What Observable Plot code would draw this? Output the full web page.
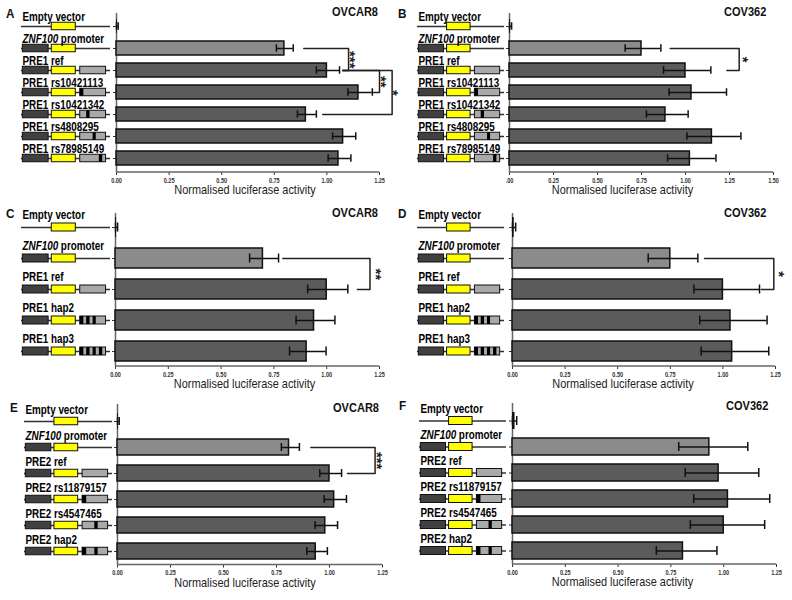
<!DOCTYPE html>
<html>
<head>
<meta charset="utf-8">
<script src="https://cdn.jsdelivr.net/npm/d3@7"></script>
<script src="https://cdn.jsdelivr.net/npm/@observablehq/plot@0.6"></script>
<style>
  html, body { margin: 0; padding: 0; background: #fff; }
  #root { position: relative; width: 792px; height: 600px; overflow: hidden; background: #fff;
          font-family: "Liberation Sans", Arial, sans-serif; }
  .panel { position: absolute; width: 396px; height: 200px; }
  .panel svg { position: absolute; left: 0; top: 0; }
  .letter { position: absolute; font-weight: bold; font-size: 13px; line-height: 13px; color: #111;
            transform: scaleX(0.9); transform-origin: left center; }
  .ptitle { position: absolute; font-weight: bold; font-size: 12px; line-height: 12px; color: #111;
            transform: scaleX(0.92); transform-origin: left center; white-space: nowrap; }
</style>
</head>
<body>
<div id="root"></div>
<script>
// ---------------- data ----------------
const xLabel = "Normalised luciferase activity";
const ticks125 = [0, 0.25, 0.5, 0.75, 1, 1.25];
const ticks125Labels = ["0.00", "0.25", "0.50", "0.75", "1.00", "1.25"];
const ticks150 = [0, 0.25, 0.5, 0.75, 1, 1.25, 1.5];
const ticks150Labels = [".00", "0.25", "0.50", "0.75", "1.00", "1.25", "1.50"];

const PRE1_names = ["Empty vector", "ZNF100 promoter", "PRE1 ref", "PRE1 rs10421113", "PRE1 rs10421342", "PRE1 rs4808295", "PRE1 rs78985149"];
const PRE1_snps = [[], [], [], [0], [1], [2], [3]];
const HAP_names = ["Empty vector", "ZNF100 promoter", "PRE1 ref", "PRE1 hap2", "PRE1 hap3"];
const HAP_snps = [[], [], [], [0, 1, 2], [0, 1, 2, 3]];
const PRE2_names = ["Empty vector", "ZNF100 promoter", "PRE2 ref", "PRE2 rs11879157", "PRE2 rs4547465", "PRE2 hap2"];
const PRE2_snps = [[], [], [], [0], [1], [0, 1]];

// Panel A – OVCAR8, PRE1 SNPs
const A_mean = [0.004, 0.798, 1.000, 1.150, 0.900, 1.077, 1.055];
const A_lo   = [0.000, 0.760, 0.950, 1.100, 0.860, 1.027, 1.006];
const A_hi   = [0.008, 0.840, 1.060, 1.216, 0.950, 1.137, 1.114];
const A_brackets = [
  {from: "ZNF100 promoter", to: "PRE1 ref", xFrom: 0.89, xTo: 1.075, xr: 1.103, label: "***", labelX: 1.125},
  {from: "PRE1 ref", to: "PRE1 rs10421113", xFrom: 1.075, xTo: 1.22, xr: 1.25, label: "**", labelX: 1.274},
  {from: "PRE1 ref", to: "PRE1 rs10421342", xFrom: 1.075, xTo: 0.98, xr: 1.31, label: "*", labelX: 1.331}
];
// Panel B – COV362, PRE1 SNPs
const B_mean = [0.006, 0.750, 1.000, 1.034, 0.886, 1.150, 1.025];
const B_lo   = [0.000, 0.657, 0.875, 0.907, 0.778, 1.008, 0.898];
const B_hi   = [0.012, 0.860, 1.144, 1.233, 1.015, 1.315, 1.173];
const B_brackets = [
  {from: "ZNF100 promoter", to: "PRE1 ref", xFrom: 0.913, xTo: 1.235, xr: 1.305, label: "*", labelX: 1.35}
];
// Panel C – OVCAR8, PRE1 haplotypes
const C_mean = [0.005, 0.698, 1.000, 0.940, 0.905];
const C_lo   = [0.000, 0.635, 0.910, 0.855, 0.824];
const C_hi   = [0.010, 0.772, 1.100, 1.039, 0.997];
const C_brackets = [
  {from: "ZNF100 promoter", to: "PRE1 ref", xFrom: 0.792, xTo: 1.145, xr: 1.205, label: "**", labelX: 1.249}
];
// Panel D – COV362, PRE1 haplotypes
const D_mean = [0.008, 0.750, 1.000, 1.036, 1.044];
const D_lo   = [0.000, 0.645, 0.862, 0.890, 0.897];
const D_hi   = [0.015, 0.881, 1.174, 1.210, 1.218];
const D_brackets = [
  {from: "ZNF100 promoter", to: "PRE1 ref", xFrom: 0.913, xTo: 1.182, xr: 1.242, label: "*", labelX: 1.282}
];
// Panel E – OVCAR8, PRE2
const E_mean = [0.004, 0.809, 1.000, 1.022, 0.980, 0.935];
const E_lo   = [0.000, 0.773, 0.954, 0.975, 0.932, 0.893];
const E_hi   = [0.008, 0.858, 1.057, 1.080, 1.038, 0.990];
const E_brackets = [
  {from: "ZNF100 promoter", to: "PRE2 ref", xFrom: 0.912, xTo: 1.085, xr: 1.215, label: "***", labelX: 1.241}
];
// Panel F – COV362, PRE2
const F_mean = [0.012, 0.932, 0.976, 1.020, 1.000, 0.807];
const F_lo   = [0.000, 0.787, 0.818, 0.858, 0.842, 0.681];
const F_hi   = [0.020, 1.114, 1.166, 1.218, 1.194, 0.968];
const F_brackets = [];

// ---------------- layout (styles / geometry) ----------------
const FONT = '"Liberation Sans", Arial, sans-serif';
const PART = {prom: [0.015, 0.305], luc: [0.34, 0.61], pre: [0.66, 0.95]};
const SLOTS = {
  PRE1: [[0.0, 0.14], [0.25, 0.38], [0.5, 0.62], [0.74, 0.87]],
  PRE2: [[0.0, 0.16], [0.48, 0.61]]
};
const GEO = {
  A: {left: 0,   top: 0,   x0: 116, x1: 379, axisY: 172,   frameTop: 13, row0: 25,   step: 22.5,  barH: 14.5, capH: 8,   line: [21, 110], labelDy: -10, titleDx: -3,  letter: [6, 7],  title: [332, 6],  letterText: "A"},
  B: {left: 396, top: 0,   x0: 113, x1: 377, axisY: 172,   frameTop: 13, row0: 25,   step: 22.5,  barH: 14.5, capH: 8,   line: [21, 108], labelDy: -10, titleDx: -19, letter: [2, 7],  title: [328, 6],  letterText: "B"},
  C: {left: 0,   top: 200, x0: 115, x1: 379, axisY: 166,   frameTop: 13, row0: 26.3, step: 31.5,  barH: 20,   capH: 9,   line: [21, 110], labelDy: -13, titleDx: -3,  letter: [6, 7],  title: [332, 7],  letterText: "C"},
  D: {left: 396, top: 200, x0: 116, x1: 379, axisY: 166,   frameTop: 13, row0: 26.3, step: 31.5,  barH: 20,   capH: 9,   line: [21, 108], labelDy: -13, titleDx: -21, letter: [2, 7],  title: [328, 7],  letterText: "D"},
  E: {left: 0,   top: 400, x0: 117, x1: 382, axisY: 164.5, frameTop: 4,  row0: 20.5, step: 26.25, barH: 16.5, capH: 8.5, line: [24, 112], labelDy: -12, titleDx: -5,  letter: [10, 1], title: [333, 2],  letterText: "E"},
  F: {left: 396, top: 400, x0: 116, x1: 380, axisY: 164,   frameTop: 3,  row0: 20,   step: 26.2,  barH: 17,   capH: 9,   line: [23, 110], labelDy: -12, titleDx: -22, letter: [3, -1], title: [330, 0],  letterText: "F"}
};

const PANELS = [
  {key: "A", cell: "OVCAR8", region: "PRE1", names: PRE1_names, snps: PRE1_snps, mean: A_mean, lo: A_lo, hi: A_hi, brackets: A_brackets, max: 1.25, ticks: ticks125, tickLabels: ticks125Labels},
  {key: "B", cell: "COV362", region: "PRE1", names: PRE1_names, snps: PRE1_snps, mean: B_mean, lo: B_lo, hi: B_hi, brackets: B_brackets, max: 1.5,  ticks: ticks150, tickLabels: ticks150Labels},
  {key: "C", cell: "OVCAR8", region: "PRE1", names: HAP_names,  snps: HAP_snps,  mean: C_mean, lo: C_lo, hi: C_hi, brackets: C_brackets, max: 1.25, ticks: ticks125, tickLabels: ticks125Labels},
  {key: "D", cell: "COV362", region: "PRE1", names: HAP_names,  snps: HAP_snps,  mean: D_mean, lo: D_lo, hi: D_hi, brackets: D_brackets, max: 1.25, ticks: ticks125, tickLabels: ticks125Labels},
  {key: "E", cell: "OVCAR8", region: "PRE2", names: PRE2_names, snps: PRE2_snps, mean: E_mean, lo: E_lo, hi: E_hi, brackets: E_brackets, max: 1.25, ticks: ticks125, tickLabels: ticks125Labels},
  {key: "F", cell: "COV362", region: "PRE2", names: PRE2_names, snps: PRE2_snps, mean: F_mean, lo: F_lo, hi: F_hi, brackets: F_brackets, max: 1.25, ticks: ticks125, tickLabels: ticks125Labels}
];

// horizontally condense svg texts (the reference uses a narrow face)
function condense(svg, scaleFor) {
  svg.querySelectorAll("text").forEach(t => {
    const s = scaleFor(t.textContent);
    if (!s || s === 1) return;
    const x = parseFloat(t.getAttribute("x")) || 0, y = parseFloat(t.getAttribute("y")) || 0;
    const tr = t.getAttribute("transform") || "";
    t.setAttribute("transform", `${tr} translate(${x},${y}) scale(${s},1) translate(${-x},${-y})`);
  });
}

const root = document.getElementById("root");

function makePanel(p) {
  const g = GEO[p.key];
  const W = 396, H = 200;
  const rows = p.names.map((name, i) => ({
    name, mean: p.mean[i], lo: p.lo[i], hi: p.hi[i], snps: p.snps[i],
    kind: name === "Empty vector" ? "empty" : name.startsWith("ZNF100") ? "promoter" : "pre"
  }));
  const n = rows.length;
  const pad = 1 - g.barH / g.step;
  const r0 = g.row0 - g.step * (1 + pad) / 2;
  const r1 = r0 + g.step * (n + pad);
  const yBand = {domain: p.names, range: [r0, r1], padding: pad, align: 0.5};
  const boxInset = (g.barH - 8) / 2;
  const capInset = (g.barH - g.capH) / 2;

  // construct diagram pieces
  const parts = [];
  const [p0, p1] = PART.pre;
  for (const r of rows) {
    if (r.kind !== "empty") parts.push({name: r.name, type: "prom", x1: PART.prom[0], x2: PART.prom[1]});
    parts.push({name: r.name, type: "luc", x1: PART.luc[0], x2: PART.luc[1]});
    if (r.kind === "pre") {
      parts.push({name: r.name, type: "pre", x1: p0, x2: p1});
      for (const s of r.snps) {
        const [a, b] = SLOTS[p.region][s];
        parts.push({name: r.name, type: "snp", x1: p0 + a * (p1 - p0), x2: p0 + b * (p1 - p0)});
      }
    }
  }
  const box = (type, fill, stroke) => Plot.barX(parts.filter(d => d.type === type), {
    y: "name", x1: "x1", x2: "x2", fill, stroke, strokeWidth: stroke ? 1 : 0, insetTop: boxInset, insetBottom: boxInset
  });

  const diag = Plot.plot({
    width: W, height: H, margin: 0,
    style: {background: "transparent", overflow: "visible", fontFamily: FONT},
    x: {domain: [0, 1], range: g.line, axis: null},
    y: {...yBand, axis: null},
    marks: [
      Plot.ruleY(rows, {y: "name", x1: 0, x2: 1, stroke: "#333", strokeWidth: 1.3}),
      box("prom", "#404040", "#111"),
      box("luc", "#ffff00", "#111"),
      box("pre", "#a9a9a9", "#111"),
      box("snp", "#000", null),
      Plot.text(rows, {y: "name", x: 0, text: "name", textAnchor: "start", dx: 1, dy: g.labelDy,
        fontSize: 12.5, fontWeight: "bold", fill: "#000"})
    ]
  });
  d3.select(diag).selectAll("text").each(function() {
    const t = this.textContent;
    if (t.startsWith("ZNF100 ")) {
      this.textContent = "";
      d3.select(this).append("tspan").attr("font-style", "italic").text("ZNF100");
      d3.select(this).append("tspan").text(t.slice(6));
    }
  });
  condense(diag, () => 0.79);

  // brackets
  const bracketPts = [];
  p.brackets.forEach((b, i) => {
    bracketPts.push({id: i, x: b.xFrom, y: b.from}, {id: i, x: b.xr, y: b.from},
                    {id: i, x: b.xr, y: b.to}, {id: i, x: b.xTo, y: b.to});
  });
  const bracketLabels = p.brackets.map(b => {
    const k = p.names.indexOf(b.to) - p.names.indexOf(b.from);
    return Plot.text([b], {x: "labelX", y: "from", text: "label", rotate: 90,
      dx: -3.8, dy: k * g.step / 2, lineAnchor: "middle", opacity: 0.99,
      fontSize: 15, fontWeight: "bold", fill: "#1a1a1a"});
  });

  const xAxisLine = () => {
    const l = document.createElementNS("http://www.w3.org/2000/svg", "line");
    l.setAttribute("x1", g.x0); l.setAttribute("x2", g.x1);
    l.setAttribute("y1", g.axisY); l.setAttribute("y2", g.axisY);
    l.setAttribute("stroke", "#666"); l.setAttribute("stroke-width", 1.5);
    return l;
  };

  const bars = Plot.plot({
    width: W, height: H,
    marginLeft: g.x0, marginRight: W - g.x1, marginTop: g.frameTop, marginBottom: H - g.axisY,
    style: {background: "transparent", overflow: "visible", fontFamily: FONT, fontSize: "6.5px", fontWeight: "bold", color: "#333"},
    x: {domain: [0, p.max], ticks: p.ticks, tickFormat: d => p.tickLabels[p.ticks.indexOf(d)], tickSize: 3, tickPadding: 2.5, label: null},
    y: {...yBand, tickSize: 3, tickFormat: () => "", label: null},
    marks: [
      Plot.ruleX([0], {stroke: "#666", strokeWidth: 1.5}),
      xAxisLine,
      Plot.barX(rows.filter(d => d.kind === "promoter"), {y: "name", x: "mean", fill: "#8b8b8b", stroke: "#111", strokeWidth: 1.5}),
      Plot.barX(rows.filter(d => d.kind === "pre"), {y: "name", x: "mean", fill: "#5b5b5b", stroke: "#111", strokeWidth: 1.5}),
      Plot.barX(rows.filter(d => d.kind === "empty"), {y: "name", x: "mean", fill: "#111"}),
      Plot.ruleY(rows, {y: "name", x1: "lo", x2: "hi", stroke: "#111", strokeWidth: 1.5}),
      Plot.tickX(rows, {y: "name", x: "lo", stroke: "#111", strokeWidth: 1.5, insetTop: capInset, insetBottom: capInset}),
      Plot.tickX(rows, {y: "name", x: "hi", stroke: "#111", strokeWidth: 1.5, insetTop: capInset, insetBottom: capInset}),
      Plot.line(bracketPts, {x: "x", y: "y", z: "id", stroke: "#222", strokeWidth: 1.5}),
      ...bracketLabels,
      Plot.text([xLabel], {frameAnchor: "bottom", dy: 21.5, dx: g.titleDx, text: d => d, fontSize: 12, fontWeight: "normal", fill: "#222"})
    ]
  });
  condense(bars, t => /^[*\s]*$/.test(t) ? 1 : t === xLabel ? 0.91 : 0.85);

  const div = document.createElement("div");
  div.className = "panel";
  div.style.left = g.left + "px";
  div.style.top = g.top + "px";
  div.appendChild(bars);
  div.appendChild(diag);
  const letter = document.createElement("div");
  letter.className = "letter";
  letter.textContent = g.letterText;
  letter.style.left = g.letter[0] + "px";
  letter.style.top = g.letter[1] + "px";
  div.appendChild(letter);
  const title = document.createElement("div");
  title.className = "ptitle";
  title.textContent = p.cell;
  title.style.left = g.title[0] + "px";
  title.style.top = g.title[1] + "px";
  div.appendChild(title);
  root.appendChild(div);
}

PANELS.forEach(makePanel);
</script>
</body>
</html>
